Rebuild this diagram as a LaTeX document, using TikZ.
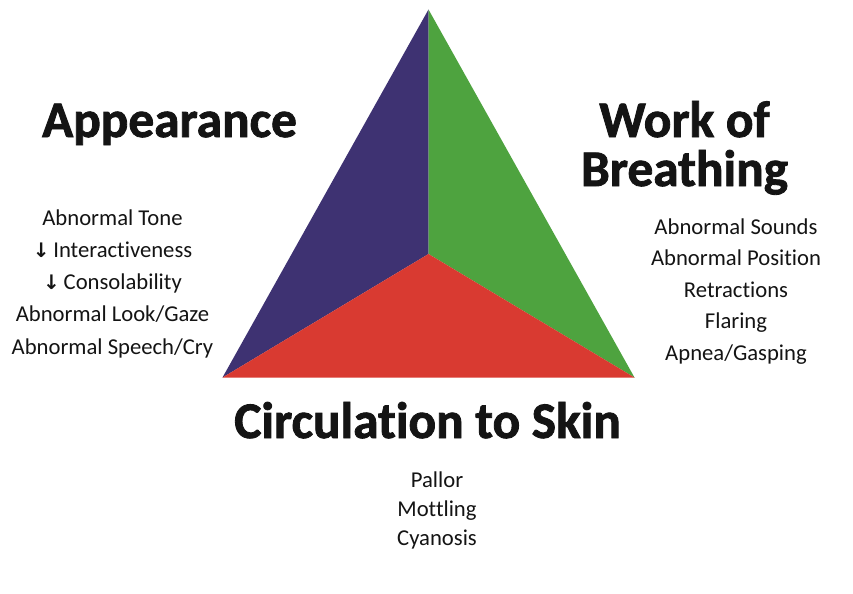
\documentclass[tikz,border=0pt]{standalone}
\usepackage{fontspec}
\setmainfont{Carlito}[Ligatures=NoCommon]
\newfontfamily\titlefont[Ligatures=NoCommon,BoldFeatures={FakeBold=1.6}]{Carlito}
\newfontfamily\arrowfont{DejaVu Sans}
\definecolor{triblue}{HTML}{3E3272}
\definecolor{trigreen}{HTML}{4EA33F}
\definecolor{trired}{HTML}{D93A31}
\definecolor{inktext}{HTML}{141414}
\newcommand{\dn}{{\arrowfont\bfseries\fontsize{15pt}{15pt}\selectfont\char"2193}\,}
\begin{document}
\begin{tikzpicture}[x=0.75pt,y=-0.75pt,
  title/.style={inner sep=0pt,anchor=base,text=inktext,
    font=\titlefont\bfseries\fontsize{38.5pt}{40pt}\selectfont},
  item/.style={inner sep=0pt,anchor=base,text=inktext,
    font=\fontsize{17pt}{20pt}\selectfont}]
\useasboundingbox (0,0) rectangle (853,593);
\fill[white] (0,0) rectangle (853,593);

% triangle corners and inner meeting point
\coordinate (apex) at (428.5,9.5);
\coordinate (bl) at (222.5,377.5);
\coordinate (br) at (634.5,377.5);
\coordinate (ctr) at (428.5,254);

\fill[triblue] (apex) -- (ctr) -- (bl) -- cycle;
\fill[trigreen] (apex) -- (br) -- (ctr) -- cycle;
\fill[trired] (bl) -- (ctr) -- (br) -- cycle;

% headings
\node[title] (tapp) at (169.5,137) {Appearance};
\node[title] (twork) at (684.5,137) {Work of};
\node[title] (tbreath) at (684.5,186) {Breathing};
\node[title] (tcirc) at (427.5,438) {Circulation to Skin};

% appearance signs
\node[item] (a1) at (112.5,225) {Abnormal Tone};
\node[item] (a2) at (112.5,257.3) {\dn Interactiveness};
\node[item] (a3) at (112.5,289.5) {\dn Consolability};
\node[item] (a4) at (112.5,321.8) {Abnormal Look/Gaze};
\node[item] (a5) at (112.5,354) {Abnormal Speech/Cry};

% work of breathing signs
\node[item] (b1) at (736,234) {Abnormal Sounds};
\node[item] (b2) at (736,265.5) {Abnormal Position};
\node[item] (b3) at (736,297) {Retractions};
\node[item] (b4) at (736,328.5) {Flaring};
\node[item] (b5) at (736,360) {Apnea/Gasping};

% circulation signs
\node[item] (c1) at (437,487) {Pallor};
\node[item] (c2) at (437,516) {Mottling};
\node[item] (c3) at (437,545) {Cyanosis};
\end{tikzpicture}
\end{document}
